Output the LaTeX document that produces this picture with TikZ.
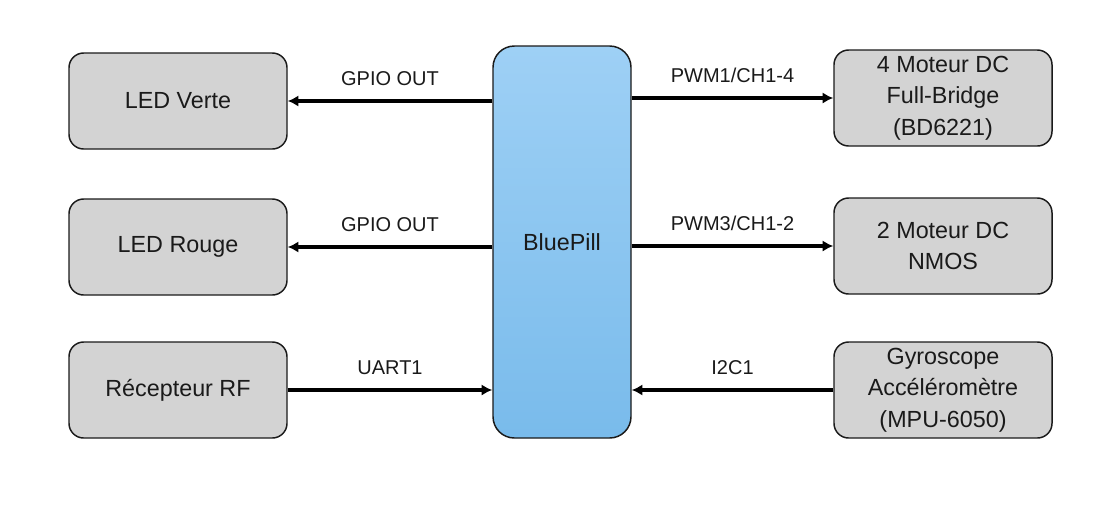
\documentclass[tikz,border=0pt]{standalone}
\usepackage{fontspec}
\setmainfont{Liberation Sans}
\usetikzlibrary{arrows.meta}
\definecolor{boxgray}{HTML}{D3D3D3}
\definecolor{pilltop}{HTML}{9ED0F5}
\definecolor{pillbot}{HTML}{79BBEB}
\definecolor{txt}{HTML}{1A1A1A}

\begin{document}
\begin{tikzpicture}[x=0.75pt,y=-0.75pt]

\tikzset{block/.style={draw=txt,line width=1.1pt,fill=boxgray,rounded corners=11pt,
    minimum width=163.5pt,minimum height=72pt,align=center,text=txt,
    font=\fontsize{17.5pt}{23.5pt}\selectfont}}
\tikzset{mcu/.style={draw=txt,line width=1.1pt,rounded corners=16pt,
    top color=pilltop,bottom color=pillbot,minimum width=103.5pt,minimum height=294pt,
    text=txt,font=\fontsize{17.5pt}{23pt}\selectfont}}
\tikzset{link/.style={line width=2.4pt,-{Latex[length=8pt,width=8.5pt]}}}
\tikzset{tag/.style={text=txt,font=\fontsize{15pt}{18pt}\selectfont}}

\useasboundingbox (0,0) rectangle (1116,508);

% microcontroleur
\node[mcu] (bluepill) at (562,242) {BluePill};

% peripheriques gauche
\node[block] (ledverte)  at (178,101) {LED Verte};
\node[block] (ledrouge)  at (178,247) {LED Rouge};
\node[block] (recepteur) at (178,390) {Récepteur RF};

% peripheriques droite
\node[block] (moteur4) at (943,98)  {4 Moteur DC\\Full-Bridge\\(BD6221)};
\node[block] (moteur2) at (943,246) {2 Moteur DC\\NMOS};
\node[block] (gyro)    at (943,390) {Gyroscope\\Accéléromètre\\(MPU-6050)};

% liaisons
\draw[link] (bluepill.west |- ledverte) -- (ledverte.east)
    node[tag,midway,above=7pt] {GPIO OUT};
\draw[link] (bluepill.west |- ledrouge) -- (ledrouge.east)
    node[tag,midway,above=7pt] {GPIO OUT};
\draw[link] (recepteur.east) -- (bluepill.west |- recepteur)
    node[tag,midway,above=7pt] {UART1};
\draw[link] (bluepill.east |- moteur4) -- (moteur4.west)
    node[tag,midway,above=7pt] {PWM1/CH1-4};
\draw[link] (bluepill.east |- moteur2) -- (moteur2.west)
    node[tag,midway,above=7pt] {PWM3/CH1-2};
\draw[link] (gyro.west) -- (bluepill.east |- gyro)
    node[tag,midway,above=7pt] {I2C1};

\end{tikzpicture}
\end{document}
